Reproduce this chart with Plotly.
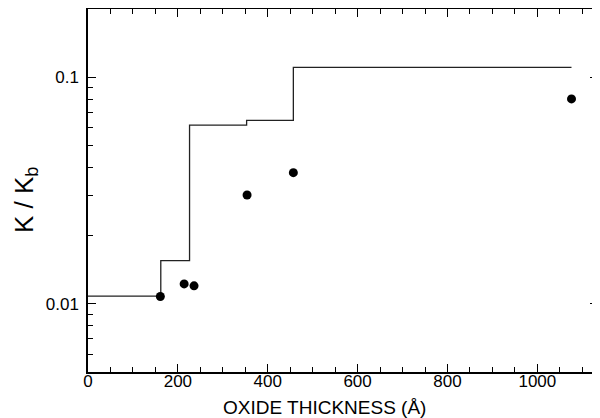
import plotly.graph_objects as go

# Step curve (model)
step_x = [0, 162, 226, 353, 457, 1076]
step_y = [0.0108, 0.0155, 0.0615, 0.0645, 0.1105, 0.1105]

# Measured points
pt_x = [161, 214, 236, 354, 457, 1076]
pt_y = [0.01077, 0.01224, 0.0120, 0.0302, 0.0379, 0.0802]

x_major = [0, 200, 400, 600, 800, 1000]
x_minor = [50, 100, 150, 250, 300, 350, 450, 500, 550, 650, 700, 750, 850, 900, 950, 1050, 1100]
y_major = [0.01, 0.1]
y_major_text = ["0.01", "0.1"]
y_minor = [0.005, 0.006, 0.007, 0.008, 0.009, 0.02, 0.03, 0.04, 0.05, 0.06, 0.07, 0.08, 0.09]

FONT = "Liberation Sans"
OFF = 8  # page body margin offset of the plot div
# target plot-area box in page pixels
PX0, PX1, PY0, PY1 = 88, 598, 9, 372
W, H = 600 - OFF, 418 - OFF
L, T = PX0 - OFF, PY0 - OFF
R = W - (PX1 - OFF)
B = H - (PY1 - OFF)
PW, PH = PX1 - PX0, PY1 - PY0

fig = go.Figure()
fig.add_trace(go.Scatter(x=step_x, y=step_y, mode="lines", line_shape="hv",
                         line=dict(color="#222", width=1.3), showlegend=False))
fig.add_trace(go.Scatter(x=pt_x, y=pt_y, mode="markers",
                         marker=dict(color="black", size=9), showlegend=False))

fig.update_layout(
    width=W, height=H,
    margin=dict(l=L, r=R, t=T, b=B, autoexpand=False),
    paper_bgcolor="white", plot_bgcolor="white",
    font=dict(family=FONT, color="black"),
)
fig.update_xaxes(
    range=[0, 1135], showgrid=False, zeroline=False, automargin=False,
    showline=True, linecolor="black", linewidth=1.5, mirror="allticks",
    ticks="inside", ticklen=8, tickwidth=1.2, tickcolor="black",
    tickmode="array", tickvals=x_major, ticktext=[str(v) for v in x_major],
    tickfont=dict(size=17, family=FONT), ticklabelstandoff=-7,
    minor=dict(tickmode="array", tickvals=x_minor, ticks="inside", ticklen=5,
               tickwidth=1.1, tickcolor="black", showgrid=False),
)
fig.update_yaxes(
    type="log", range=[-2.30103, -0.69897], showgrid=False, zeroline=False, automargin=False,
    showline=True, linecolor="black", linewidth=1.5, mirror="allticks",
    ticks="inside", ticklen=8, tickwidth=1.2, tickcolor="black",
    tickmode="array", tickvals=y_major, ticktext=y_major_text,
    tickfont=dict(size=17, family=FONT), ticklabelstandoff=4,
    minor=dict(tickmode="array", tickvals=y_minor, ticks="inside", ticklen=5,
               tickwidth=1.1, tickcolor="black", showgrid=False),
)

fig.add_annotation(text="OXIDE THICKNESS (Å)", xref="paper", yref="paper",
                   x=(324 - PX0) / PW, y=(PY1 - 407) / PH, xanchor="center", yanchor="middle",
                   showarrow=False, font=dict(size=19, family=FONT))
fig.add_annotation(text="K / K<sub>b</sub>", xref="paper", yref="paper",
                   x=(25 - PX0) / PW, y=(PY1 - 200) / PH, xanchor="center", yanchor="middle",
                   textangle=-90, showarrow=False, font=dict(size=26, family=FONT))

fig.write_html("out.html")
